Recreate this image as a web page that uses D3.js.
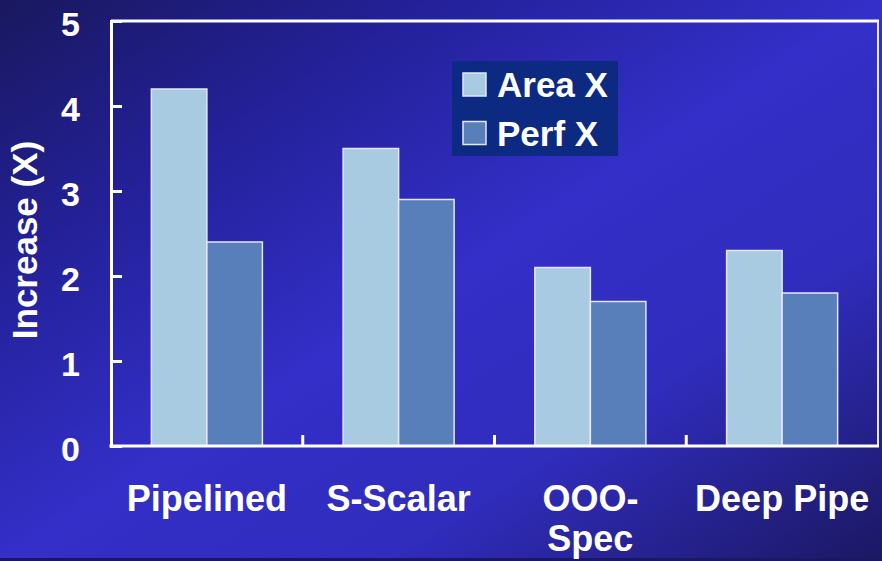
<!DOCTYPE html>
<html>
<head>
<meta charset="utf-8">
<script src="https://cdn.jsdelivr.net/npm/d3@7"></script>
<style>
  html, body { margin: 0; padding: 0; background: #2a28a8; }
  svg { display: block; }
  text { font-family: "Liberation Sans", Arial, Helvetica, sans-serif; font-weight: bold; fill: #ffffff; }
</style>
</head>
<body>
<svg id="chart" width="882" height="561"></svg>
<script>
// Processor design styles and their relative increases
const categories = ["Pipelined", "S-Scalar", "OOO-\nSpec", "Deep Pipe"];
const seriesNames = ["Area X", "Perf X"];
const areaX = [4.2, 3.5, 2.1, 2.3];
const perfX = [2.4, 2.9, 1.7, 1.8];
const yTicks = [0, 1, 2, 3, 4, 5];
const seriesColors = ["#a9cbe1", "#587fba"];

const W = 882, H = 561;
const plot = { left: 111, right: 878, top: 21, bottom: 446 };

const svg = d3.select("#chart");

// Diagonal background gradient: dark corners, bright blue centre
const defs = svg.append("defs");
const grad = defs.append("linearGradient")
  .attr("id", "bg").attr("x1", "0").attr("y1", "0").attr("x2", "1").attr("y2", "1");
grad.append("stop").attr("offset", "0%").attr("stop-color", "#19185e");
grad.append("stop").attr("offset", "25%").attr("stop-color", "#24219a");
grad.append("stop").attr("offset", "50%").attr("stop-color", "#332fc8");
grad.append("stop").attr("offset", "72%").attr("stop-color", "#302cbc");
grad.append("stop").attr("offset", "100%").attr("stop-color", "#1b1862");
svg.append("rect").attr("width", W).attr("height", H).attr("fill", "url(#bg)");
svg.append("rect").attr("x", 0).attr("y", H - 3).attr("width", W).attr("height", 3)
  .attr("fill", "#1a1860");

const x = d3.scaleBand().domain(categories).range([plot.left, plot.right]).padding(0);
const x1 = d3.scaleBand().domain(seriesNames).range([0, x.bandwidth()])
  .paddingInner(0).paddingOuter(0.727);
const y = d3.scaleLinear().domain([0, 5]).range([plot.bottom, plot.top]);

const rows = categories.map((c, i) => ({ cat: c, vals: [areaX[i], perfX[i]] }));

// Bars
const groups = svg.append("g").selectAll("g").data(rows).join("g")
  .attr("transform", d => `translate(${x(d.cat)},0)`);
groups.selectAll("rect")
  .data(d => d.vals.map((v, j) => ({ name: seriesNames[j], v, j })))
  .join("rect")
  .attr("x", d => x1(d.name))
  .attr("y", d => y(d.v))
  .attr("width", x1.bandwidth())
  .attr("height", d => y(0) - y(d.v))
  .attr("fill", d => seriesColors[d.j])
  .attr("stroke", "#e4e6f4")
  .attr("stroke-width", 1.5);

// Plot frame (top and right sides)
svg.append("line").attr("x1", plot.left).attr("x2", plot.right + 1)
  .attr("y1", plot.top).attr("y2", plot.top)
  .attr("stroke", "#ffffff").attr("stroke-width", 3);
svg.append("line").attr("x1", plot.right).attr("x2", plot.right)
  .attr("y1", plot.top).attr("y2", plot.bottom)
  .attr("stroke", "#e8e8f8").attr("stroke-width", 2);

// Y axis: inward ticks, labels on the left
const yAxis = d3.axisLeft(y).tickValues(yTicks).tickSize(-11).tickPadding(31)
  .tickFormat(d3.format("d"));
const gy = svg.append("g").attr("transform", `translate(${plot.left},0)`).call(yAxis);
gy.select(".domain").attr("stroke", "#ffffff").attr("stroke-width", 3);
gy.selectAll(".tick line").attr("stroke", "#ffffff").attr("stroke-width", 3);
gy.selectAll(".tick text")
  .attr("fill", "#ffffff").attr("font-size", 34)
  .attr("font-family", "Liberation Sans, Arial, sans-serif").attr("font-weight", "bold")
  .attr("dy", "0.42em");

// X axis: boundary ticks pointing up, multi-line category labels
const gx = svg.append("g").attr("transform", `translate(0,${plot.bottom})`);
gx.append("line").attr("x1", plot.left - 1.5).attr("x2", plot.right + 1)
  .attr("y1", 0).attr("y2", 0).attr("stroke", "#ffffff").attr("stroke-width", 3);
gx.selectAll("line.tick").data(categories.slice(1)).join("line")
  .attr("class", "tick")
  .attr("x1", d => x(d)).attr("x2", d => x(d))
  .attr("y1", 0).attr("y2", -11)
  .attr("stroke", "#ffffff").attr("stroke-width", 3);
const xl = gx.selectAll("text").data(categories).join("text")
  .attr("x", d => x(d) + x.bandwidth() / 2)
  .attr("y", 65)
  .attr("text-anchor", "middle")
  .attr("font-size", 36);
xl.selectAll("tspan").data(d => d.split("\n"))
  .join("tspan")
  .attr("x", function () { return this.parentNode.getAttribute("x"); })
  .attr("dy", (d, i) => i === 0 ? 0 : 40)
  .text(d => d);

// Y axis title
svg.append("text")
  .attr("transform", "translate(37,240) rotate(-90)")
  .attr("text-anchor", "middle")
  .attr("font-size", 35)
  .text("Increase (X)");

// Legend
const lg = svg.append("g").attr("transform", "translate(452,61)");
lg.append("rect").attr("width", 166).attr("height", 95).attr("fill", "#0c2a82");
const li = lg.selectAll("g").data(seriesNames).join("g")
  .attr("transform", (d, i) => `translate(0,${12 + i * 48.5})`);
li.append("rect").attr("x", 11).attr("y", 0).attr("width", 23).attr("height", 23)
  .attr("fill", (d, i) => seriesColors[i])
  .attr("stroke", "#e4e6f4").attr("stroke-width", 1.5);
li.append("text").attr("x", 45).attr("y", 24).attr("font-size", 35).text(d => d);
</script>
</body>
</html>
